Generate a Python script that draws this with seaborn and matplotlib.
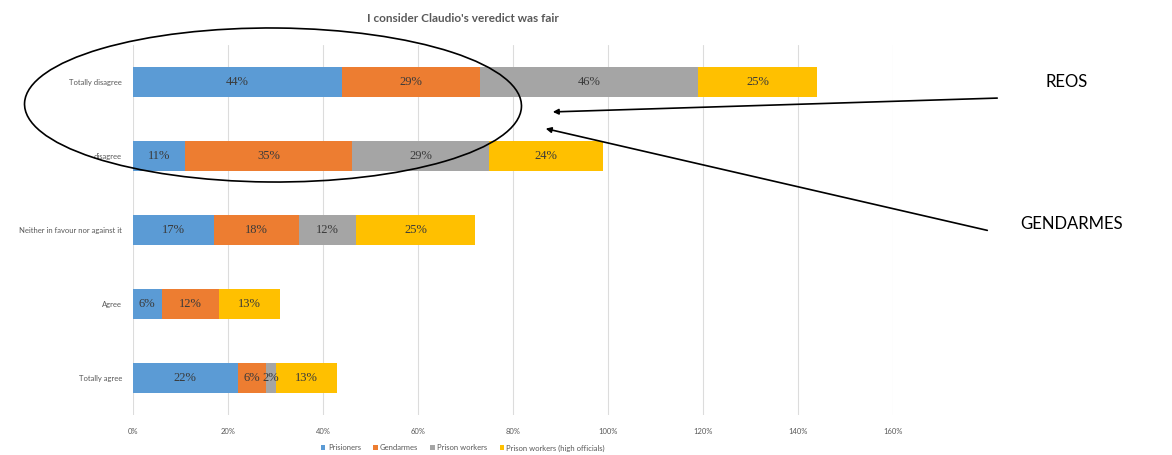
import matplotlib
matplotlib.use("Agg")
import matplotlib.pyplot as plt
import seaborn as sns
import pandas as pd
import numpy as np
from matplotlib.patches import Ellipse, Patch

categories = ["Totally disagree", "disagree", "Neither in favour nor against it", "Agree", "Totally agree"]
series = ["Prisioners", "Gendarmes", "Prison workers", "Prison workers (high officials)"]
prisioners = [44, 11, 17, 6, 22]
gendarmes = [29, 35, 18, 12, 6]
prison_workers = [46, 29, 12, 0, 2]
high_officials = [25, 24, 25, 13, 13]
xticks = [0, 20, 40, 60, 80, 100, 120, 140, 160]
title = "I consider Claudio's veredict was fair"

colors = ["#5B9BD5", "#ED7D31", "#A5A5A5", "#FFC000"]

sns.set_theme(style="white")
plt.rcParams["font.family"] = ["Lato", "DejaVu Sans"]

vals = np.array([prisioners, gendarmes, prison_workers, high_officials], dtype=float)
cum = np.cumsum(vals, axis=0)

fig = plt.figure(figsize=(11.72, 4.55), dpi=100)
ax = fig.add_axes([133/1172, 1 - 415/455, (893 - 133)/1172, (415 - 45)/455])

# draw cumulative bars, largest first so smaller layers sit on top
for i in range(3, -1, -1):
    df = pd.DataFrame({"category": categories, "value": cum[i]})
    sns.barplot(data=df, x="value", y="category", order=categories, orient="h",
                color=colors[i], saturation=1, width=0.41, linewidth=0,
                ax=ax, zorder=2)

# segment labels
for i in range(4):
    for j, cat in enumerate(categories):
        v = vals[i, j]
        if v <= 0:
            continue
        center = cum[i, j] - v / 2
        ax.text(center, j, f"{int(v)}%", ha="center", va="center",
                fontsize=9, color="#3a3a3a", family="Liberation Serif", zorder=3)

ax.set_xlim(0, 160)
ax.set_ylim(4.5, -0.5)
ax.set_xticks(xticks)
ax.set_xticklabels([f"{t}%" for t in xticks], fontsize=5.5, color="#595959")
ax.tick_params(axis="x", pad=9, length=0)
ax.tick_params(axis="y", labelsize=5.5, labelcolor="#595959", pad=8, length=0)
ax.set_xlabel("")
ax.set_ylabel("")
ax.xaxis.grid(True, color="#dcdcdc", linewidth=0.8, zorder=0)
ax.set_axisbelow(True)
for s in ax.spines.values():
    s.set_visible(False)

fig.text(463/1172, 1 - 18/455, title, ha="center", va="center", fontsize=8.5,
         fontweight="bold", color="#595959")

handles = [Patch(facecolor=c, edgecolor="none") for c in colors]
fig.legend(handles, series, loc="center", bbox_to_anchor=(463/1172, 1 - 448/455),
           ncol=4, frameon=False, fontsize=5.5, handlelength=0.6, handleheight=0.6,
           handletextpad=0.3, columnspacing=1.6, labelcolor="#595959")

# annotations
ell = Ellipse((273/1172, 1 - 105/455), width=497/1172, height=154/455,
              transform=fig.transFigure, fill=False, edgecolor="black", linewidth=1.2,
              angle=-1.5)
fig.add_artist(ell)
fig.text(1067/1172, 1 - 82/455, "REOS", ha="center", va="center", fontsize=12, color="black")
fig.text(1072/1172, 1 - 224/455, "GENDARMES", ha="center", va="center", fontsize=12, color="black")
arrowprops = dict(arrowstyle="-|>", color="black", lw=1.2, mutation_scale=8)
ax.annotate("", xy=(550/1172, 1 - 112/455), xytext=(1000/1172, 1 - 98/455),
            xycoords="figure fraction", textcoords="figure fraction", arrowprops=arrowprops,
            annotation_clip=False)
ax.annotate("", xy=(543/1172, 1 - 128/455), xytext=(990/1172, 1 - 231/455),
            xycoords="figure fraction", textcoords="figure fraction", arrowprops=arrowprops,
            annotation_clip=False)

fig.savefig("out.png", dpi=100)
